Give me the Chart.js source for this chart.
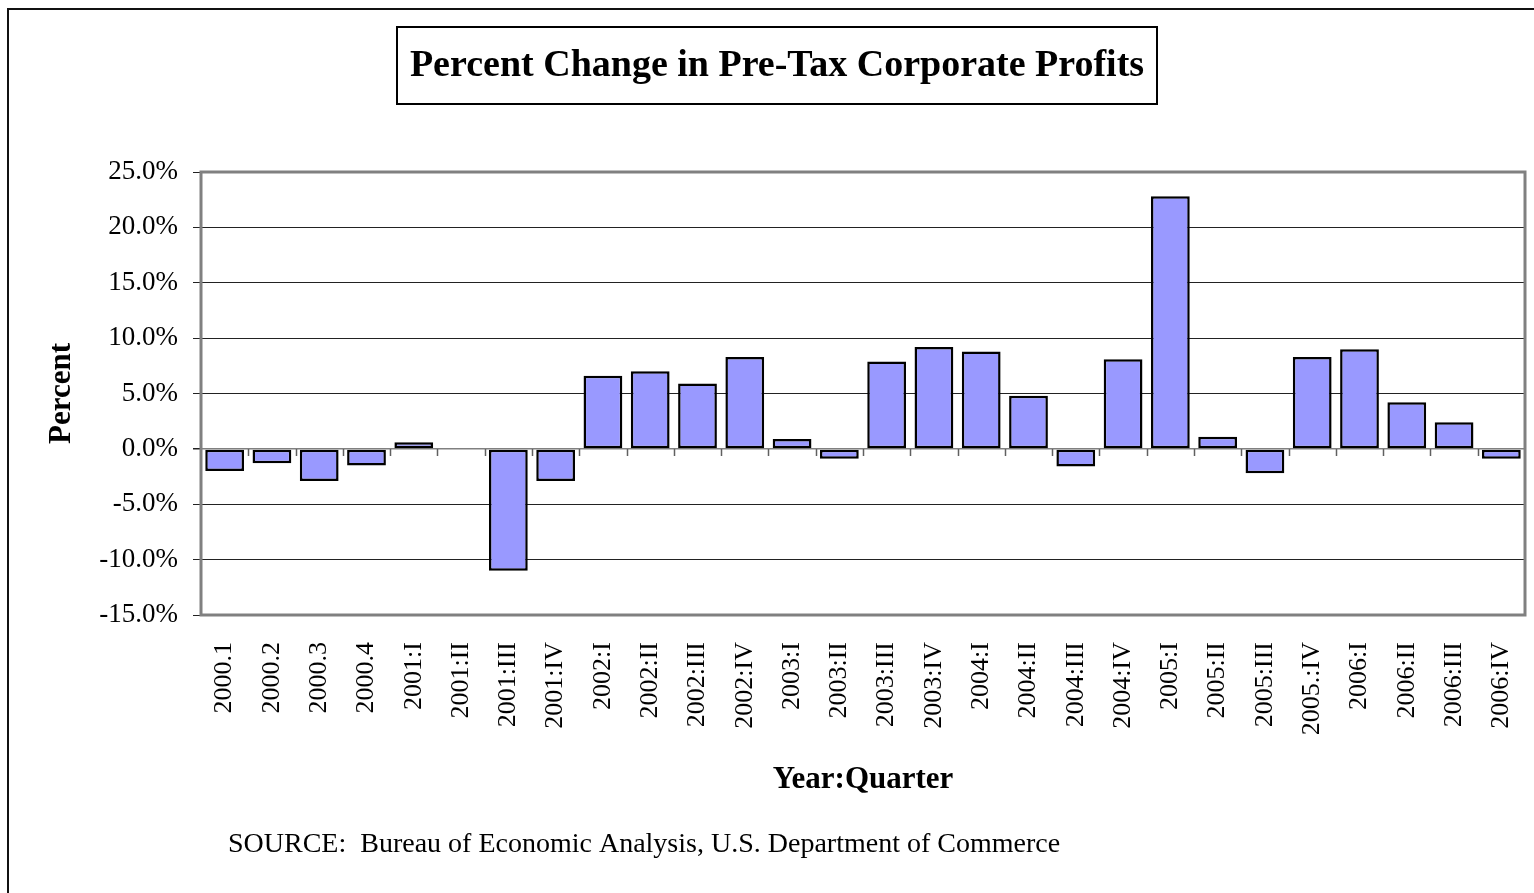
<!DOCTYPE html>
<html lang="en">
<head>
  <meta charset="UTF-8" />
  <title>Percent Change in Pre-Tax Corporate Profits</title>
  <script src="https://cdn.jsdelivr.net/npm/chart.js"></script>
  <style>
    body {
      margin: 0;
      background: #fff;
    }

    #wrap {
      width: 1534px;
      height: 893px;
    }
  </style>
</head>

<body>
  <div id="wrap"><canvas id="profitChart" width="1534" height="893"></canvas></div>

  <script>
    // data
    const quarters = [
      '2000.1', '2000.2', '2000.3', '2000.4',
      '2001:I', '2001:II', '2001:III', '2001:IV',
      '2002:I', '2002:II', '2002:III', '2002:IV',
      '2003:I', '2003:II', '2003:III', '2003:IV',
      '2004:I', '2004:II', '2004:III', '2004:IV',
      '2005:I', '2005:II', '2005:III', '2005.:IV',
      '2006:I', '2006:II', '2006:III', '2006:IV'
    ];
    const pctChange = [
      -2.0, -1.3, -2.9, -1.5,
      0.6, 0, -11.0, -2.9,
      6.6, 7.0, 5.9, 8.3,
      0.9, -0.9, 7.9, 9.2,
      8.8, 4.8, -1.6, 8.1,
      22.8, 1.1, -2.2, 8.3,
      9.0, 4.2, 2.4, -0.9
    ];
    const yMin = -15, yMax = 25, yStep = 5;

    const chartTitle = 'Percent Change in Pre-Tax Corporate Profits';
    const sourceNote = 'SOURCE:  Bureau of Economic Analysis, U.S. Department of Commerce';
    const serif = '"Liberation Serif", "Times New Roman", serif';

    // frame, title box, zero-line ticks, source line
    const decorPlugin = {
      id: 'decor',
      beforeDraw(chart) {
        const ctx = chart.ctx;
        ctx.save();
        ctx.fillStyle = '#fff';
        ctx.fillRect(0, 0, chart.width, chart.height);
        ctx.restore();
      },
      afterDraw(chart) {
        const { ctx, chartArea: a, scales } = chart;
        const y0 = scales.y.getPixelForValue(0);
        const step = (a.right - a.left) / quarters.length;

        ctx.save();
        // small ticks on the zero line
        ctx.strokeStyle = '#606060';
        ctx.lineWidth = 1.5;
        ctx.beginPath();
        for (let i = 1; i < quarters.length; i++) {
          const x = Math.round(a.left + i * step) + 0.5;
          ctx.moveTo(x, y0);
          ctx.lineTo(x, y0 + 7);
        }
        ctx.stroke();

        // plot area border
        ctx.strokeStyle = '#808080';
        ctx.lineWidth = 3;
        ctx.strokeRect(a.left, a.top, a.right - a.left, a.bottom - a.top);

        // outer chart frame (runs off the right and bottom)
        ctx.strokeStyle = '#111';
        ctx.lineWidth = 2;
        ctx.beginPath();
        ctx.moveTo(8, chart.height + 5);
        ctx.lineTo(8, 9);
        ctx.lineTo(chart.width + 5, 9);
        ctx.stroke();

        // title box
        ctx.strokeStyle = '#000';
        ctx.lineWidth = 2;
        ctx.strokeRect(397, 27, 760, 77);
        ctx.fillStyle = '#000';
        ctx.font = 'bold 38px ' + serif;
        ctx.textAlign = 'center';
        ctx.textBaseline = 'middle';
        ctx.fillText(chartTitle, 777, 66);

        // source
        ctx.font = '28px ' + serif;
        ctx.textAlign = 'left';
        ctx.fillText(sourceNote, 228, 845);
        ctx.restore();
      }
    };

    new Chart(document.getElementById('profitChart'), {
      type: 'bar',
      data: {
        labels: quarters,
        datasets: [{
          data: pctChange,
          backgroundColor: '#9999FF',
          borderColor: '#000',
          borderWidth: 2.5,
          borderSkipped: false,
          barPercentage: 0.82,
          categoryPercentage: 1
        }]
      },
      options: {
        responsive: false,
        animation: false,
        layout: { padding: { top: 172, right: 9, left: 0, bottom: 0 } },
        plugins: {
          legend: { display: false },
          tooltip: { enabled: false }
        },
        scales: {
          x: {
            grid: { display: false, drawTicks: false },
            border: { display: false },
            ticks: {
              autoSkip: false,
              minRotation: 90,
              maxRotation: 90,
              padding: 27,
              color: '#000',
              font: { family: serif, size: 26 }
            },
            title: {
              display: true,
              text: 'Year:Quarter',
              color: '#000',
              font: { family: serif, size: 31, weight: 'bold' },
              padding: { top: 0, bottom: 94 }
            },
            afterFit(s) {
              s.height = 278;
              s.paddingLeft = 0;
              s.paddingRight = 0;
            }
          },
          y: {
            min: yMin,
            max: yMax,
            border: { display: false },
            grid: {
              color: c => c.tick.value === 0 ? '#808080' : '#222',
              lineWidth: c => c.tick.value === 0 ? 1.5 : 1,
              tickColor: '#222',
              tickLength: 8
            },
            ticks: {
              stepSize: yStep,
              padding: 15,
              color: '#000',
              font: { family: serif, size: 27 },
              callback: v => v.toFixed(1) + '%'
            },
            title: {
              display: true,
              text: 'Percent',
              color: '#000',
              font: { family: serif, size: 31, weight: 'bold' },
              padding: { top: 43, bottom: 0 }
            },
            afterFit(s) { s.width = 201; }
          }
        }
      },
      plugins: [decorPlugin]
    });
  </script>
</body>

</html>
